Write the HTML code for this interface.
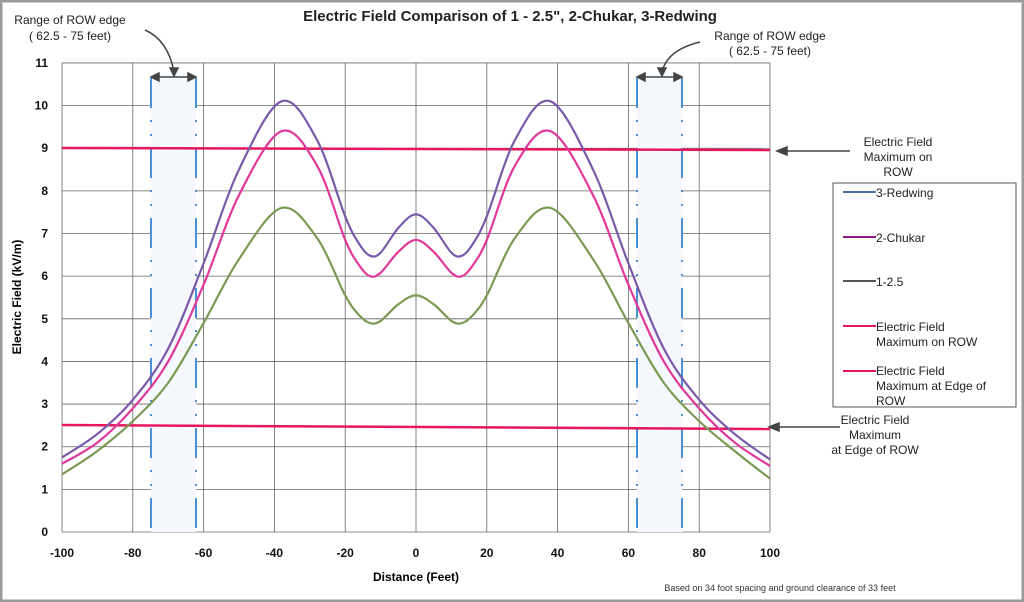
<!DOCTYPE html>
<html><head><meta charset="utf-8"><style>
body{margin:0;background:#fff;}
svg{display:block;font-family:"Liberation Sans",sans-serif;}
</style></head><body>
<svg id="s" width="1024" height="602" viewBox="0 0 1024 602" xmlns="http://www.w3.org/2000/svg">
<rect x="1" y="1" width="1022" height="600" fill="#fff" stroke="#9a9a9a" stroke-width="3"/>
<g id="grid" stroke="#666" stroke-width="0.8"></g>
<rect x="151" y="73" width="45" height="459" fill="#f5f9fd"/>
<rect x="637" y="73" width="45" height="459" fill="#f5f9fd"/>
<g stroke="#4a90d9" stroke-width="2" stroke-dasharray="30,12,2,12,2,12">
<line x1="151" y1="78" x2="151" y2="532"/><line x1="196" y1="78" x2="196" y2="532"/>
<line x1="637" y1="78" x2="637" y2="532"/><line x1="682" y1="78" x2="682" y2="532"/>
</g>
<g stroke="#444" stroke-width="1.5" fill="#444">
<line x1="157" y1="77" x2="190" y2="77"/><path d="M151 77 l8 -4 v8z M196 77 l-8 -4 v8z"/>
<line x1="643" y1="77" x2="676" y2="77"/><path d="M637 77 l8 -4 v8z M682 77 l-8 -4 v8z"/>
<path d="M145 30 Q168 40 174 72" fill="none"/><path d="M174 76 l-4 -8 h8z"/>
<path d="M700 42 Q667 50 662 72" fill="none"/><path d="M662 76 l-4 -8 h8z"/>
<line x1="785" y1="151" x2="850" y2="151"/><path d="M777 151 l10 -4 v8z"/>
<line x1="777" y1="427" x2="840" y2="427"/><path d="M769 427 l10 -4 v8z"/>
</g>
<line x1="62" y1="148" x2="770" y2="150" stroke="#e8175d" stroke-width="2.5"/>
<line x1="62" y1="425" x2="770" y2="429" stroke="#e8175d" stroke-width="2.5"/>
<g id="curves" fill="none" stroke-width="2.2"></g>
<g font-size="12" fill="#111" font-weight="bold" id="lab"></g>
<text x="510" y="21" font-size="15" font-weight="bold" text-anchor="middle" fill="#222">Electric Field Comparison of 1 - 2.5", 2-Chukar, 3-Redwing</text>
<text x="416" y="581" font-size="12" font-weight="bold" text-anchor="middle">Distance (Feet)</text>
<text transform="translate(21,297) rotate(-90)" font-size="12" font-weight="bold" text-anchor="middle">Electric Field (kV/m)</text>
<text x="780" y="591" font-size="9" text-anchor="middle" fill="#333">Based on 34 foot spacing and ground clearance of 33 feet</text>
<g font-size="12" fill="#222" text-anchor="middle">
<text x="70" y="24">Range of ROW edge</text><text x="70" y="40">( 62.5 - 75 feet)</text>
<text x="770" y="40">Range of ROW edge</text><text x="770" y="55">( 62.5 - 75 feet)</text>
<text x="898" y="146">Electric Field</text><text x="898" y="161">Maximum on</text><text x="898" y="176">ROW</text>
<text x="875" y="424">Electric Field</text><text x="875" y="439">Maximum</text><text x="875" y="454">at Edge of ROW</text>
</g>
<rect x="833" y="183" width="183" height="224" fill="#fff" stroke="#555" stroke-width="1"/>
<g stroke-width="2">
<line x1="843" y1="192" x2="876" y2="192" stroke="#4a6fa5"/>
<line x1="843" y1="237" x2="876" y2="237" stroke="#8b1a8b"/>
<line x1="843" y1="281" x2="876" y2="281" stroke="#555"/>
<line x1="843" y1="326" x2="876" y2="326" stroke="#e8175d"/>
<line x1="843" y1="371" x2="876" y2="371" stroke="#e8175d"/>
</g>
<g font-size="12" fill="#222">
<text x="876" y="197">3-Redwing</text><text x="876" y="242">2-Chukar</text><text x="876" y="286">1-2.5</text>
<text x="876" y="331">Electric Field</text><text x="876" y="346">Maximum on ROW</text>
<text x="876" y="375">Electric Field</text><text x="876" y="390">Maximum at Edge of</text><text x="876" y="405">ROW</text>
</g>
</svg>
<script>
var NS="http://www.w3.org/2000/svg";
function X(v){return 62+(v+100)*3.54}function Y(v){return 532-v*42.64}
function el(p,t,a,txt){var e=document.createElementNS(NS,t);for(var k in a)e.setAttribute(k,a[k]);if(txt!=null)e.textContent=txt;p.appendChild(e);return e}
var g=document.getElementById('grid'),lab=document.getElementById('lab');
for(var i=-100;i<=100;i+=20){el(g,'line',{x1:X(i),y1:63,x2:X(i),y2:532});el(lab,'text',{x:X(i),y:557,'text-anchor':'middle'},i)}
for(var j=0;j<=11;j++){el(g,'line',{x1:62,y1:Y(j),x2:770,y2:Y(j)});el(lab,'text',{x:48,y:Y(j)+4,'text-anchor':'end'},j)}
function sym(h,end){var p=h.slice();for(var k=h.length-2;k>=0;k--)p.push([-h[k][0],h[k][1]]);p[p.length-1][1]=end;return p}
var S=[
[sym([[-100,1.75],[-90,2.3],[-80,3.1],[-70,4.3],[-60,6.3],[-50,8.5],[-38,10.1],[-28,9.2],[-20,7.4],[-16,6.75],[-13,6.48],[-10,6.55],[-5,7.13],[0,7.45]],1.7),'#7a5aa8'],
[sym([[-100,1.6],[-90,2.1],[-80,2.9],[-70,4.0],[-60,5.8],[-50,7.9],[-38,9.4],[-28,8.6],[-20,6.85],[-16,6.25],[-13,6.0],[-10,6.08],[-5,6.57],[0,6.85]],1.55),'#e0389a'],
[sym([[-100,1.35],[-90,1.9],[-80,2.6],[-70,3.5],[-60,4.9],[-50,6.4],[-38,7.6],[-28,6.9],[-20,5.55],[-16,5.08],[-13,4.9],[-10,4.95],[-5,5.34],[0,5.55]],1.25),'#7a9a55']];
var c=document.getElementById('curves');
S.forEach(function(s){var p=s[0].map(function(q){return[X(q[0]),Y(q[1])]});var d='M'+p[0][0]+' '+p[0][1];
for(var i=0;i<p.length-1;i++){var p0=p[i-1]||p[i],p1=p[i],p2=p[i+1],p3=p[i+2]||p2;
d+=' C'+(p1[0]+(p2[0]-p0[0])/6)+' '+(p1[1]+(p2[1]-p0[1])/6)+' '+(p2[0]-(p3[0]-p1[0])/6)+' '+(p2[1]-(p3[1]-p1[1])/6)+' '+p2[0]+' '+p2[1]}
el(c,'path',{d:d,stroke:s[1]})});
</script>
</body></html>
